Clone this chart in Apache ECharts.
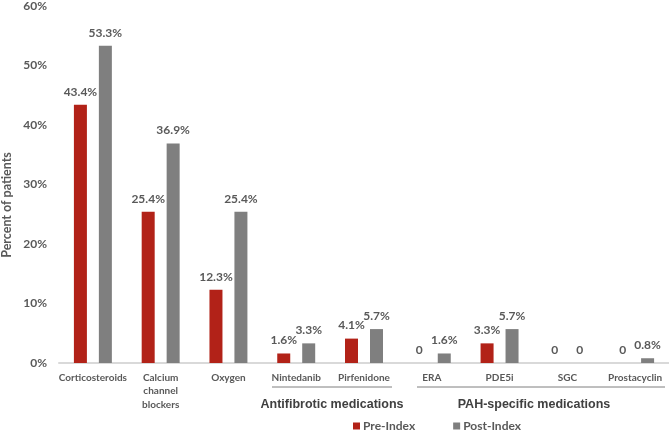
<!DOCTYPE html>
<html><head><meta charset="utf-8">
<script src="https://cdn.jsdelivr.net/npm/echarts@6/dist/echarts.min.js"></script>
<style>html,body{margin:0;padding:0;background:#fff}#c{width:669px;height:434px}</style>
</head><body><div id="c"></div>
<script>
const categories = ['Corticosteroids','Calcium\nchannel\nblockers','Oxygen','Nintedanib','Pirfenidone','ERA','PDE5i','SGC','Prostacyclin'];
const preIndex = [43.4, 25.4, 12.3, 1.6, 4.1, 0, 3.3, 0, 0];
const postIndex = [53.3, 36.9, 25.4, 3.3, 5.7, 1.6, 5.7, 0, 0.8];
const seriesNames = ['Pre-Index','Post-Index'];
const groupLabels = ['Antifibrotic medications','PAH-specific medications'];
const yAxisTitle = 'Percent of patients';

const FONT = 'Lato, "Open Sans", sans-serif';
const TXT = '#595959';
const chart = echarts.init(document.getElementById('c'), null, {renderer:'canvas'});
const lbl = {show:true, position:'top', distance:7, color:TXT, fontFamily:FONT, fontWeight:'bold', fontSize:12,
  formatter: p => p.value === 0 ? '0' : p.value.toFixed(1) + '%'};
chart.setOption({
  animation:false,
  textStyle:{fontFamily:FONT},
  grid:{left:59, right:0, top:6, bottom:71, containLabel:false},
  xAxis:{type:'category', data:categories,
    axisLine:{lineStyle:{color:'#d9d9d9', width:2}}, axisTick:{show:false},
    axisLabel:{color:TXT, fontFamily:FONT, fontWeight:'bold', fontSize:10, margin:8, interval:0, lineHeight:13.5}},
  yAxis:{type:'value', min:0, max:60, interval:10,
    axisLabel:{formatter:'{value}%', color:TXT, fontFamily:FONT, fontWeight:'bold', fontSize:12, margin:12},
    splitLine:{show:false}, axisLine:{show:false}, axisTick:{show:false}},
  legend:{top:415, left:348, itemWidth:7, itemHeight:7, itemGap:38, icon:'rect',
    textStyle:{color:TXT, fontFamily:FONT, fontWeight:'bold', fontSize:12, padding:[0,0,0,-2]}},
  series:[
    {name:seriesNames[0], type:'bar', data:preIndex, barWidth:13, barGap:'92%', itemStyle:{color:'#B22218'}, label:lbl},
    {name:seriesNames[1], type:'bar', data:postIndex, barWidth:13, itemStyle:{color:'#7F7F7F'}, label:lbl}
  ],
  graphic:[
    {type:'text', x:7, y:205, rotation:Math.PI/2, style:{text:yAxisTitle, fill:TXT, font:'bold 12.5px Lato, sans-serif', textAlign:'center', textVerticalAlign:'middle'}},
    {type:'line', shape:{x1:272,y1:387,x2:392,y2:387}, style:{stroke:'#7f7f7f', lineWidth:1}},
    {type:'line', shape:{x1:417,y1:387,x2:665,y2:387}, style:{stroke:'#7f7f7f', lineWidth:1}},
    {type:'text', x:332, y:405, style:{text:groupLabels[0], fill:'#404040', font:'bold 12.5px Arial, "Liberation Sans", sans-serif', textAlign:'center', textVerticalAlign:'middle'}},
    {type:'text', x:534, y:405, style:{text:groupLabels[1], fill:'#404040', font:'bold 12.5px Arial, "Liberation Sans", sans-serif', textAlign:'center', textVerticalAlign:'middle'}}
  ]
});
</script></body></html>
